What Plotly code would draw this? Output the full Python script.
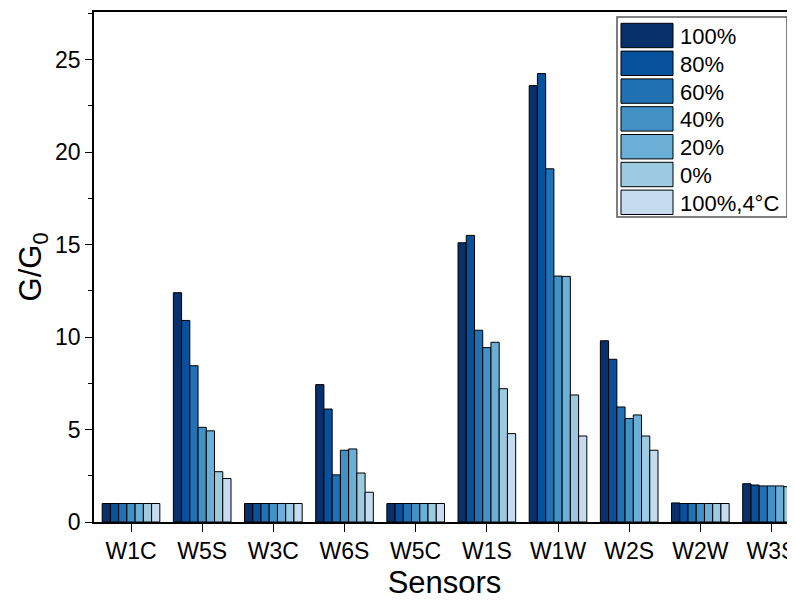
import plotly.graph_objects as go

sensors = ["W1C", "W5S", "W3C", "W6S", "W5C", "W1S", "W1W", "W2S", "W2W", "W3S"]
series_names = ["100%", "80%", "60%", "40%", "20%", "0%", "100%,4°C"]
colors = ["#08306b", "#08519c", "#2171b5", "#4292c6", "#6baed6", "#9ecae1", "#c6dbef"]

s100 = [1.0, 12.4, 1.0, 7.43, 1.0, 15.1, 23.6, 9.8, 1.03, 2.07]
s80 = [1.0, 10.9, 1.0, 6.11, 1.0, 15.5, 24.25, 8.8, 1.0, 2.0]
s60 = [1.0, 8.45, 1.0, 2.55, 1.0, 10.37, 19.1, 6.22, 1.0, 1.95]
s40 = [1.0, 5.12, 1.0, 3.88, 1.0, 9.43, 13.3, 5.6, 1.0, 1.95]
s20 = [1.0, 4.93, 1.0, 3.95, 1.0, 9.72, 13.28, 5.79, 1.0, 1.95]
s0 = [1.0, 2.72, 1.0, 2.65, 1.0, 7.21, 6.87, 4.65, 1.0, 1.91]
s100_4c = [1.0, 2.35, 1.0, 1.61, 1.0, 4.78, 4.65, 3.88, 1.0, 1.64]
all_series = [s100, s80, s60, s40, s20, s0, s100_4c]

# page body has an 8px margin; figure fills the remaining window
OFF = 8
W, H = 795 - OFF, 601 - OFF
ML = 94 - OFF
MT = 12 - OFF
MB = H - (522 - OFF)
MR = 0
PW, PH = W - ML - MR, H - MT - MB

def px_x(x):
    return (x - OFF - ML) / PW

def px_y(y):
    return (H - MB - (y - OFF)) / PH

FONT = "Arial, Liberation Sans, sans-serif"

fig = go.Figure()
for name, vals, col in zip(series_names, all_series, colors):
    fig.add_trace(go.Bar(
        x=sensors, y=vals, name=name,
        marker=dict(color=col, line=dict(color="black", width=1)),
        showlegend=False,
    ))

# custom legend (big swatches like the reference)
shapes = [dict(type="rect", xref="paper", yref="paper",
               x0=px_x(617), x1=px_x(787), y0=px_y(217), y1=px_y(17),
               line=dict(color="#555555", width=1.5), fillcolor="white", layer="above")]
annotations = []
for i, (name, col) in enumerate(zip(series_names, colors)):
    top = 23.3 + i * 27.8
    bot = top + 24.4
    shapes.append(dict(type="rect", xref="paper", yref="paper",
                       x0=px_x(621), x1=px_x(673), y0=px_y(bot), y1=px_y(top),
                       line=dict(color="black", width=1), fillcolor=col, layer="above"))
    annotations.append(dict(xref="paper", yref="paper", x=px_x(678), y=px_y((top + bot) / 2 + 1),
                            text=name, showarrow=False, xanchor="left", yanchor="middle",
                            font=dict(family=FONT, size=22, color="black")))

fig.update_layout(
    width=W, height=H,
    margin=dict(l=ML, r=MR, t=MT, b=MB),
    paper_bgcolor="white", plot_bgcolor="white",
    barmode="group", bargap=0.19, bargroupgap=0,
    font=dict(family=FONT, color="black"),
    shapes=shapes, annotations=annotations,
    xaxis=dict(
        type="category", range=[-0.52, 9.33], automargin=False,
        showline=True, linecolor="black", linewidth=1.5, mirror=True,
        ticks="outside", ticklen=8, tickwidth=1.2, tickcolor="black",
        showgrid=False, tickfont=dict(size=23),
        title=dict(text="Sensors", font=dict(size=31), standoff=8),
    ),
    yaxis=dict(
        range=[0, 27.58], dtick=5, tick0=0, automargin=False,
        showline=True, linecolor="black", linewidth=1.5,
        ticks="outside", ticklen=7, tickwidth=1.2, tickcolor="black",
        minor=dict(dtick=2.5, ticks="outside", ticklen=4, tickcolor="black", tickwidth=1.2),
        showgrid=False, zeroline=False, tickfont=dict(size=23),
        title=dict(text="G/G<sub>0</sub>", font=dict(size=31), standoff=4),
    ),
)

fig.write_html("out.html")
